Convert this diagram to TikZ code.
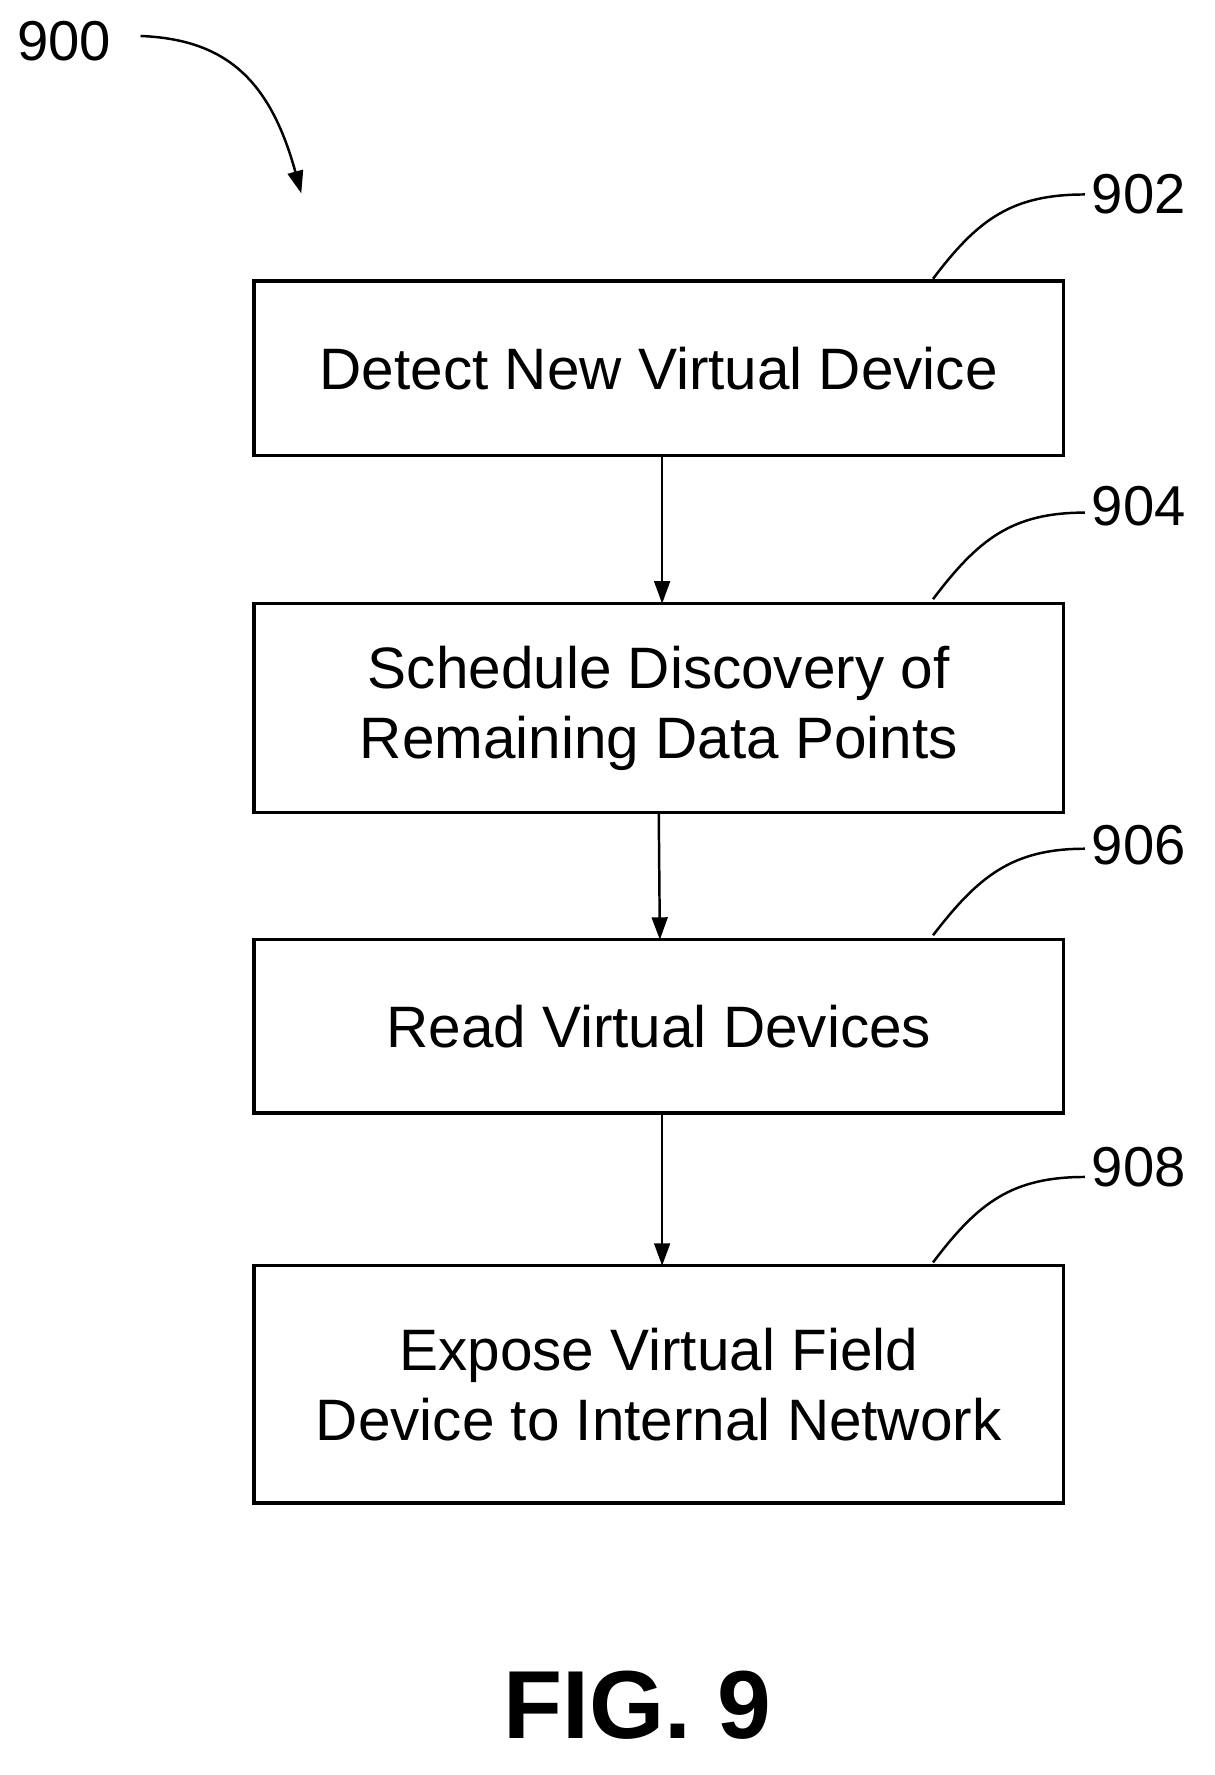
\documentclass[tikz,border=0pt]{standalone}
\usepackage{fontspec}
\setmainfont{Liberation Sans}
\usetikzlibrary{arrows.meta}
\begin{document}
\begin{tikzpicture}[x=1pt,y=-1pt,
  box/.style={draw,line width=3pt,align=center,font=\fontsize{52}{62}\selectfont},
  lab/.style={font=\fontsize{50}{52}\selectfont},
  arr/.style={line width=2.2pt,-{Triangle[length=20pt,width=14pt]}},
  lead/.style={line width=2.2pt}]
\useasboundingbox (0,0) rectangle (1080,1579);
\node[box,minimum width=720pt,minimum height=155pt] (b1) at (586,327.5) {Detect New Virtual Device};
\node[box,minimum width=720pt,minimum height=186pt] (b2) at (586,630) {Schedule Discovery of\\Remaining Data Points};
\node[box,minimum width=720pt,minimum height=154pt] (b3) at (586,913) {Read Virtual Devices};
\node[box,minimum width=720pt,minimum height=211pt] (b4) at (586,1231.5) {Expose Virtual Field\\Device to Internal Network};
\draw[arr] (589,405) -- (589,537);
\draw[arr] (586,723) -- (587,836);
\draw[arr] (589,990) -- (589,1126);
\node[lab] (l900) at (57,37) {900};
\node[lab] (l902) at (1013,173) {902};
\node[lab] (l904) at (1013,450) {904};
\node[lab] (l906) at (1013,752) {906};
\node[lab] (l908) at (1013,1038) {908};
\coordinate (a0) at (125,32);
\coordinate (a1) at (268,172);
\draw[arr] (a0) .. controls (200,35) and (240,70) .. (a1);
\draw[lead] (830,248) .. controls (870,195) and (900,173) .. (965,173);
\draw[lead] (830,533) .. controls (870,480) and (900,456) .. (965,456);
\draw[lead] (830,832) .. controls (870,780) and (900,755) .. (965,755);
\draw[lead] (830,1123) .. controls (870,1070) and (900,1047) .. (965,1047);
\node[font=\bfseries\fontsize{86}{90}\selectfont] (fig) at (567,1517) {FIG. 9};
\end{tikzpicture}
\end{document}
